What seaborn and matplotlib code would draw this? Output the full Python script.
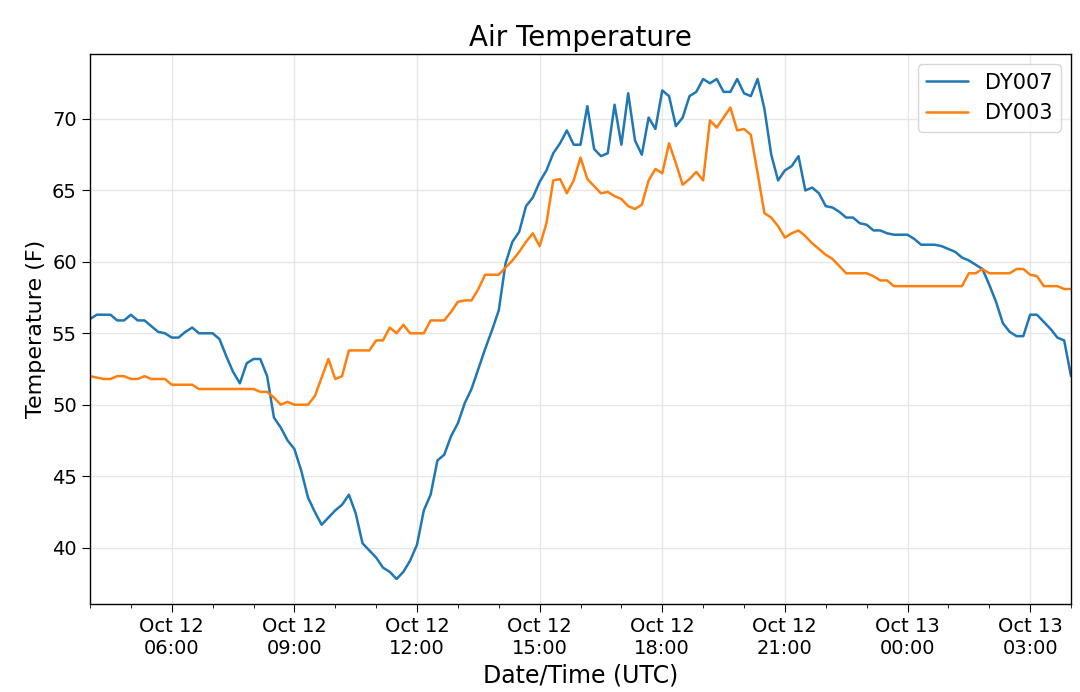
import pandas as pd
import matplotlib
matplotlib.use('Agg')
import matplotlib.pyplot as plt
import matplotlib.dates as mdates
import seaborn as sns

# 10-minute readings, Oct 12 04:00 UTC to Oct 13 04:00 UTC
start = '2018-10-12 04:00'
n_points = 145

dy007 = [56.0, 56.3, 56.3, 56.3, 55.9, 55.9, 56.3, 55.9, 55.9, 55.5,
         55.1, 55.0, 54.7, 54.7, 55.1, 55.4, 55.0, 55.0, 55.0, 54.6,
         53.4, 52.3, 51.5, 52.9, 53.2, 53.2, 52.0, 49.1, 48.4, 47.5,
         46.9, 45.4, 43.5, 42.5, 41.6, 42.1, 42.6, 43.0, 43.7, 42.4,
         40.3, 39.8, 39.3, 38.6, 38.3, 37.8, 38.3, 39.1, 40.2, 42.6,
         43.7, 46.1, 46.5, 47.8, 48.7, 50.1, 51.1, 52.5, 53.9, 55.2,
         56.6, 59.9, 61.4, 62.1, 63.9, 64.5, 65.6, 66.4, 67.6, 68.3,
         69.2, 68.2, 68.2, 70.9, 67.9, 67.4, 67.6, 71.0, 68.2, 71.8,
         68.5, 67.5, 70.1, 69.3, 72.0, 71.6, 69.5, 70.1, 71.6, 71.9,
         72.8, 72.5, 72.8, 71.9, 71.9, 72.8, 71.8, 71.6, 72.8, 70.7,
         67.5, 65.7, 66.4, 66.7, 67.4, 65.0, 65.2, 64.8, 63.9, 63.8,
         63.5, 63.1, 63.1, 62.7, 62.6, 62.2, 62.2, 62.0, 61.9, 61.9,
         61.9, 61.6, 61.2, 61.2, 61.2, 61.1, 60.9, 60.7, 60.3, 60.1,
         59.8, 59.5, 58.4, 57.2, 55.7, 55.1, 54.8, 54.8, 56.3, 56.3,
         55.8, 55.3, 54.7, 54.5, 52.0]

dy003 = [52.0, 51.9, 51.8, 51.8, 52.0, 52.0, 51.8, 51.8, 52.0, 51.8,
         51.8, 51.8, 51.4, 51.4, 51.4, 51.4, 51.1, 51.1, 51.1, 51.1,
         51.1, 51.1, 51.1, 51.1, 51.1, 50.9, 50.9, 50.5, 50.0, 50.2,
         50.0, 50.0, 50.0, 50.6, 51.9, 53.2, 51.8, 52.0, 53.8, 53.8,
         53.8, 53.8, 54.5, 54.5, 55.4, 55.0, 55.6, 55.0, 55.0, 55.0,
         55.9, 55.9, 55.9, 56.5, 57.2, 57.3, 57.3, 58.1, 59.1, 59.1,
         59.1, 59.6, 60.1, 60.7, 61.4, 62.0, 61.1, 62.7, 65.7, 65.8,
         64.8, 65.7, 67.3, 65.8, 65.3, 64.8, 64.9, 64.6, 64.4, 63.9,
         63.7, 64.0, 65.7, 66.5, 66.2, 68.3, 66.9, 65.4, 65.8, 66.3,
         65.7, 69.9, 69.4, 70.1, 70.8, 69.2, 69.3, 68.9, 66.2, 63.4,
         63.1, 62.5, 61.7, 62.0, 62.2, 61.8, 61.3, 60.9, 60.5, 60.2,
         59.7, 59.2, 59.2, 59.2, 59.2, 59.0, 58.7, 58.7, 58.3, 58.3,
         58.3, 58.3, 58.3, 58.3, 58.3, 58.3, 58.3, 58.3, 58.3, 59.2,
         59.2, 59.5, 59.2, 59.2, 59.2, 59.2, 59.5, 59.5, 59.1, 59.0,
         58.3, 58.3, 58.3, 58.1, 58.1]

stations = ['DY007', 'DY003']

times = pd.date_range(start, periods=n_points, freq='10min')
df = pd.concat([
    pd.DataFrame({'time': times, 'temp': dy007, 'station': 'DY007'}),
    pd.DataFrame({'time': times, 'temp': dy003, 'station': 'DY003'}),
])

sns.set_style('ticks')
plt.rcParams['font.family'] = ['DejaVu Sans']
plt.rcParams['text.color'] = 'black'
plt.rcParams['axes.labelcolor'] = 'black'
plt.rcParams['xtick.color'] = 'black'
plt.rcParams['ytick.color'] = 'black'

fig, ax = plt.subplots(figsize=(10.8, 6.92), dpi=100)
fig.subplots_adjust(left=90/1080, right=1071/1080, top=1-54/692, bottom=1-604/692)

sns.lineplot(data=df, x='time', y='temp', hue='station', hue_order=stations,
             palette=['#1f77b4', '#ff7f0e'], linewidth=1.8, ax=ax)

ax.set_xlim(times[0], times[-1])
ax.xaxis.set_major_locator(mdates.HourLocator(byhour=range(0, 24, 3)))
ax.xaxis.set_minor_locator(mdates.HourLocator())
ax.xaxis.set_major_formatter(mdates.DateFormatter('%b %d\n%H:%M'))
for lab in ax.get_xticklabels():
    lab.set_horizontalalignment('center')

ax.grid(True, which='major', color='#e6e6e6', linewidth=1)
ax.tick_params(axis='both', which='major', labelsize=14, length=6, direction='out')
ax.tick_params(axis='x', which='minor', length=3, direction='out')
for sp in ax.spines.values():
    sp.set_color('black')
    sp.set_linewidth(1)

ax.set_title('Air Temperature', fontsize=20)
ax.set_xlabel('Date/Time (UTC)', fontsize=17)
ax.set_ylabel('Temperature (F)', fontsize=16)

handles, labels = ax.get_legend_handles_labels()
ax.legend(handles, labels, loc='upper right', fontsize=15, frameon=True,
          fancybox=True, framealpha=0.8, edgecolor='#cccccc')

plt.savefig('out.png', dpi=100)
